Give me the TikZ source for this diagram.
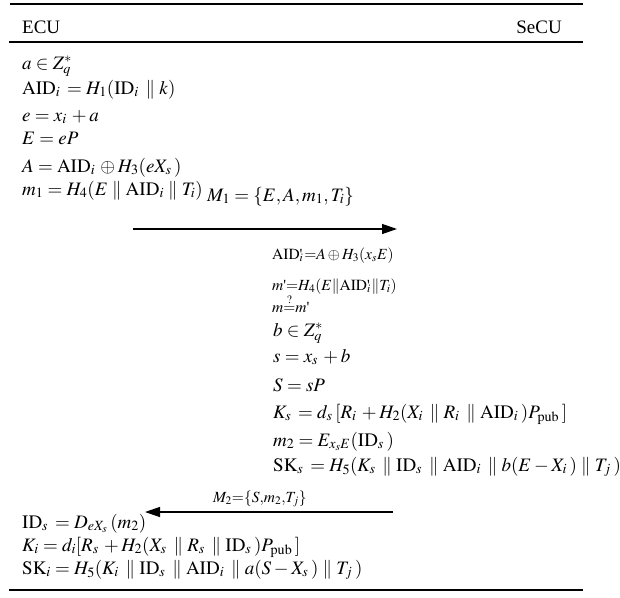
\documentclass[tikz,border=0pt]{standalone}
\usepackage{mathptmx}
\usepackage{fontspec}
\setmainfont{Liberation Serif}
\usetikzlibrary{arrows.meta}
\newcommand\kk{\mkern2.5mu}
\newcommand\apos{\mbox{\textquotesingle}}
\newcommand\aidp{\mathrm{AID}\rlap{\apos}_i\mkern1mu}
\tikzset{
  big/.style={anchor=base west, inner sep=0pt, font=\fontsize{19}{22}\selectfont},
  small/.style={anchor=base west, inner sep=0pt, font=\fontsize{15.5}{17}\selectfont},
  msg/.style={line width=1.3pt, -{Triangle[length=15pt,width=10pt]}},
  tabrule/.style={line width=1.2pt}
}
\begin{document}
\begin{tikzpicture}[x=1pt,y=-1pt]
\fill[white] (0,0) rectangle (620,597);
\useasboundingbox (0,0) rectangle (620,597);
% rules
\coordinate (r1a) at (10,4);  \coordinate (r1b) at (583,4);
\coordinate (r2a) at (9,42);  \coordinate (r2b) at (583,42);
\coordinate (r3a) at (9,590); \coordinate (r3b) at (583,590);
\draw[tabrule] (r1a) -- (r1b);
\draw[tabrule] (r2a) -- (r2b);
\draw[tabrule] (r3a) -- (r3b);
% header
\node[big] (ecu) at (22,33) {ECU};
\node[big, anchor=base east] (secu) at (562,33) {SeCU};
% ECU first part
\node[big] (l1) at (22,69) {$a\in Z_q^{*}$};
\node[big] (l2) at (22,94) {$\mathrm{AID}_i\kk=H_1(\mathrm{ID}_i\kk\parallel k)$};
\node[big] (l3) at (22,121) {$e=x_i\kk+a$};
\node[big] (l4) at (22,144) {$E=eP$};
\node[big] (l5) at (22,172) {$A=\mathrm{AID}_i\kk\oplus H_3(eX_s\kk)$};
\node[big] (l6) at (22,195) {$m_1=H_4(E\parallel\mathrm{AID}_i\parallel T_i)$};
% message 1
\node[big] (m1lab) at (207,201) {$M_1=\{E,A,m_1,T_i\}$};
\coordinate (a1s) at (133,229);
\coordinate (a1e) at (397,229);
\draw[msg] (a1s) -- (a1e);
% SeCU part
\node[small] (r1) at (272,259) {$\aidp{=}A\oplus H_3(x_sE)$};
\node[small] (r2) at (272,290) {$m\apos{=}H_4(E\|\aidp\|T_i)$};
\node[small] (r3) at (272,312) {$m{\stackrel{?}{=}}m\apos$};
\node[big] (r4) at (273,336) {$b\in Z_q^{*}$};
\node[big] (r5) at (273,362) {$s=x_s\kk+b$};
\node[big] (r6) at (273,391) {$S=sP$};
\node[big] (r7) at (273,418) {$K_s\kk=d_s\kk[R_i\kk+H_2(X_i\kk\parallel R_i\kk\parallel\mathrm{AID}_i\kk)P_{\mathrm{pub}}\kk]$};
\node[big] (r8) at (273,446) {$m_2=E_{x_sE}(\mathrm{ID}_s\kk)$};
\node[big] (r9) at (273,471) {$\mathrm{SK}_s\kk=H_5(K_s\kk\parallel\mathrm{ID}_s\kk\parallel\mathrm{AID}_i\kk\parallel b(E-X_i\kk)\parallel T_j\kk)$};
% message 2
\node[small] (m2lab) at (213,502) {$M_2{=}\{S{,}m_2{,}T_j\}$};
\coordinate (a2s) at (393,512);
\coordinate (a2e) at (145,512);
\draw[msg] (a2s) -- (a2e);
% ECU second part
\node[big] (l7) at (22,528) {$\mathrm{ID}_s\kk=D_{eX_s}\kk(m_2)$};
\node[big] (l8) at (22,551) {$K_i=d_i[R_s\kk+H_2(X_s\kk\parallel R_s\kk\parallel\mathrm{ID}_s\kk)P_{\mathrm{pub}}\kk]$};
\node[big] (l9) at (22,574) {$\mathrm{SK}_i=H_5(K_i\kk\parallel\mathrm{ID}_s\kk\parallel\mathrm{AID}_i\kk\parallel a(S-X_s\kk)\parallel T_j\kk)$};
\end{tikzpicture}
\end{document}
